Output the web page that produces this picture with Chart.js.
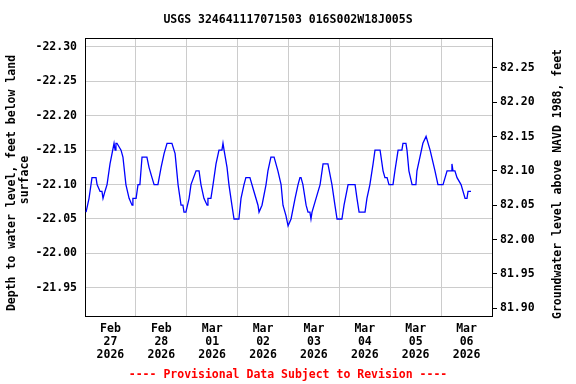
<!DOCTYPE html>
<html>
<head>
<meta charset="utf-8">
<script src="https://cdn.jsdelivr.net/npm/chart.js@4.4.1/dist/chart.umd.min.js"></script>
<style>
html, body { margin: 0; padding: 0; background: #fff; }
</style>
</head>
<body>
<canvas id="grafico" width="576" height="384"></canvas>
<script>
// hours after 2026-02-27 00:00 and depth to water (ft)
const hours = [
    0.5, 1.9, 3.3, 5.2, 5.7, 7.1, 8.0, 8.5, 9.4, 10.4,
    11.8, 13.7, 14.2, 14.6, 15.1, 17.0, 17.9, 19.3, 20.8, 22.2,
    22.6, 24.1, 25.0, 25.9, 26.9, 29.2, 30.2, 31.6, 32.6, 34.4,
    35.9, 37.3, 38.7, 41.0, 42.5, 43.9, 45.3, 46.2, 46.7, 47.6,
    49.1, 50.0, 52.4, 53.8, 54.7, 56.1, 57.6, 58.0, 59.4, 60.4,
    61.8, 63.2, 64.6, 65.1, 65.6, 67.0, 67.9, 69.3, 70.3, 72.6,
    73.6, 75.0, 75.9, 77.8, 79.7, 81.6, 82.1, 83.5, 85.4, 86.3,
    87.7, 89.2, 91.0, 92.5, 93.4, 94.8, 95.8, 97.2, 99.1, 100.5,
    101.4, 101.9, 102.8, 104.3, 105.2, 106.1, 106.6, 107.1, 109.0, 110.9,
    112.3, 114.6, 116.5, 117.9, 118.9, 121.2, 122.2, 124.1, 127.4, 128.3,
    129.3, 132.1, 133.0, 134.4, 135.9, 136.8, 139.2, 140.6, 141.5, 142.5,
    143.4, 145.3, 146.2, 147.2, 147.7, 149.5, 150.0, 151.4, 151.9, 152.8,
    154.3, 156.1, 156.6, 158.0, 159.4, 160.9, 162.8, 165.1, 166.5, 168.9,
    170.8, 172.7, 173.1, 173.6, 174.5, 175.5, 177.4, 179.3, 180.2, 180.7,
    182.1
];
const depth = [
    -22.06, -22.08, -22.11, -22.11, -22.10, -22.09, -22.09, -22.08, -22.09, -22.10,
    -22.13, -22.16, -22.15, -22.16, -22.16, -22.15, -22.14, -22.10, -22.08, -22.07,
    -22.08, -22.08, -22.10, -22.10, -22.14, -22.14, -22.125, -22.11, -22.10, -22.10,
    -22.125, -22.145, -22.16, -22.16, -22.145, -22.10, -22.07, -22.07, -22.06, -22.06,
    -22.08, -22.10, -22.12, -22.12, -22.10, -22.08, -22.07, -22.08, -22.08, -22.10,
    -22.13, -22.15, -22.15, -22.16, -22.15, -22.125, -22.10, -22.07, -22.05, -22.05,
    -22.08, -22.10, -22.11, -22.11, -22.09, -22.07, -22.06, -22.07, -22.10, -22.12,
    -22.14, -22.14, -22.12, -22.10, -22.07, -22.055, -22.04, -22.05, -22.08, -22.10,
    -22.11, -22.11, -22.10, -22.07, -22.06, -22.06, -22.05, -22.06, -22.08, -22.10,
    -22.13, -22.13, -22.10, -22.07, -22.05, -22.05, -22.07, -22.10, -22.10, -22.08,
    -22.06, -22.06, -22.08, -22.10, -22.13, -22.15, -22.15, -22.12, -22.11, -22.11,
    -22.10, -22.10, -22.12, -22.14, -22.15, -22.15, -22.16, -22.16, -22.15, -22.12,
    -22.10, -22.10, -22.12, -22.14, -22.16, -22.17, -22.15, -22.12, -22.10, -22.10,
    -22.12, -22.12, -22.13, -22.12, -22.12, -22.11, -22.10, -22.08, -22.08, -22.09,
    -22.09
];

const gridHours = [0, 24, 48, 72, 96, 120, 144, 168, 192];
const labelHours = [12, 36, 60, 84, 108, 132, 156, 180];
const dayLabels = [
    ["Feb", "27", "2026"], ["Feb", "28", "2026"], ["Mar", "01", "2026"], ["Mar", "02", "2026"],
    ["Mar", "03", "2026"], ["Mar", "04", "2026"], ["Mar", "05", "2026"], ["Mar", "06", "2026"]
];
const depthTicks = [-22.30, -22.25, -22.20, -22.15, -22.10, -22.05, -22.00, -21.95];
const elevTicks = [81.90, 81.95, 82.00, 82.05, 82.10, 82.15, 82.20, 82.25];
const datum = 59.98; // elevation = datum - depth

const mono = "'DejaVu Sans Mono', 'Liberation Mono', monospace";

const textos = {
    id: 'textos',
    afterDraw(chart) {
        const ctx = chart.ctx;
        const a = chart.chartArea;
        ctx.save();
        // borda de cima
        ctx.strokeStyle = '#000';
        ctx.lineWidth = 1;
        ctx.beginPath();
        ctx.moveTo(a.left, a.top + 0.5);
        ctx.lineTo(a.right, a.top + 0.5);
        ctx.stroke();

        ctx.fillStyle = '#000';
        ctx.textAlign = 'center';
        ctx.textBaseline = 'middle';
        ctx.font = 'bold 11.5px ' + mono;
        ctx.fillText('USGS 324641117071503 016S002W18J005S', 288, 20);

        ctx.save();
        ctx.translate(12, 183);
        ctx.rotate(-Math.PI / 2);
        ctx.fillText('Depth to water level, feet below land', 0, 0);
        ctx.restore();

        ctx.save();
        ctx.translate(25, 180);
        ctx.rotate(-Math.PI / 2);
        ctx.fillText('surface', 0, 0);
        ctx.restore();

        ctx.save();
        ctx.translate(558, 184);
        ctx.rotate(-Math.PI / 2);
        ctx.fillText('Groundwater level above NAVD 1988, feet', 0, 0);
        ctx.restore();

        ctx.fillStyle = '#ff0000';
        ctx.fillText('---- Provisional Data Subject to Revision ----', 288, 375);
        ctx.restore();
    }
};

let grafico = new Chart(document.getElementById("grafico"), {
    type: 'line',
    data: {
        datasets: [{
            data: hours.map((h, i) => ({ x: h, y: depth[i] })),
            borderColor: "#0000ff",
            borderWidth: 1.3,
            pointRadius: 0,
            tension: 0,
            fill: false,
            xAxisID: 'x',
            yAxisID: 'y'
        }]
    },
    options: {
        responsive: false,
        animation: false,
        layout: { padding: { top: 38, left: 0, right: 0, bottom: 0 } },
        plugins: {
            legend: { display: false },
            title: { display: false },
            tooltip: { enabled: false }
        },
        scales: {
            x: {
                type: 'linear',
                position: 'bottom',
                min: 0,
                max: 192,
                afterBuildTicks: s => {
                    s.ticks = gridHours.concat(labelHours).sort((p, q) => p - q).map(v => ({ value: v }));
                },
                afterFit: s => { s.height = 68; },
                ticks: {
                    autoSkip: false,
                    maxRotation: 0,
                    minRotation: 0,
                    padding: 7,
                    color: '#000',
                    font: { family: mono, size: 11.5, weight: 'bold', lineHeight: 1.12 },
                    callback: v => {
                        const i = labelHours.indexOf(v);
                        return i >= 0 ? dayLabels[i] : '';
                    }
                },
                grid: {
                    drawTicks: false,
                    color: c => (c.tick && c.tick.value % 24 === 0) ? '#cccccc' : 'rgba(0,0,0,0)'
                },
                border: { display: true, color: '#000', width: 1 }
            },
            y: {
                type: 'linear',
                position: 'left',
                reverse: true,
                min: -22.313,
                max: -21.909,
                afterBuildTicks: s => { s.ticks = depthTicks.map(v => ({ value: v })); },
                afterFit: s => { s.width = 85; },
                ticks: {
                    padding: 8,
                    color: '#000',
                    font: { family: mono, size: 11.5, weight: 'bold' },
                    callback: v => v.toFixed(2)
                },
                grid: { drawTicks: false, color: '#cccccc' },
                border: { display: true, color: '#000', width: 1 }
            },
            y2: {
                type: 'linear',
                position: 'right',
                min: datum + 21.909 - 0.0002,
                max: datum + 22.313 + 0.0006,
                afterBuildTicks: s => { s.ticks = elevTicks.map(v => ({ value: v })); },
                afterFit: s => { s.width = 84; },
                ticks: {
                    padding: 3,
                    color: '#000',
                    font: { family: mono, size: 11.5, weight: 'bold' },
                    callback: v => v.toFixed(2)
                },
                grid: { drawOnChartArea: false, drawTicks: true, tickLength: 5, color: '#000' },
                border: { display: true, color: '#000', width: 1 }
            }
        }
    },
    plugins: [textos]
});
</script>
</body>
</html>
